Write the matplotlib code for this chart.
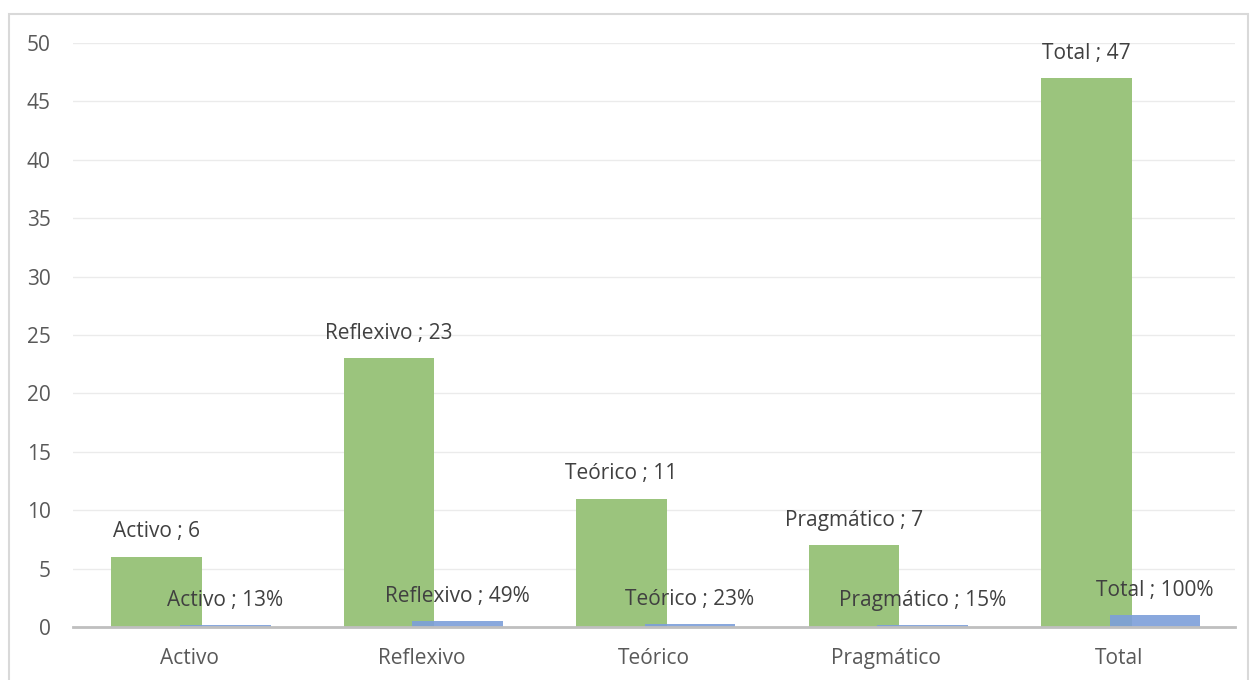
import matplotlib
matplotlib.use("Agg")
import matplotlib.pyplot as plt
import numpy as np
from matplotlib.patches import Rectangle

categories = ["Activo", "Reflexivo", "Teórico", "Pragmático", "Total"]
counts = [6, 23, 11, 7, 47]
shares = [0.13, 0.49, 0.23, 0.15, 1.00]
share_labels = ["13%", "49%", "23%", "15%", "100%"]
yticks = [0, 5, 10, 15, 20, 25, 30, 35, 40, 45, 50]

green = "#9BC47D"
blue = "#7C9FDA"
txt = "#404040"
tick_c = "#595959"

plt.rcParams["font.family"] = ["Open Sans", "DejaVu Sans"]

fig = plt.figure(figsize=(12.52, 6.80), dpi=100)
ax = fig.add_axes([73/1252, 1 - 627/680, (1235-73)/1252, (627-43)/680])

x = np.arange(len(categories))
w = 0.39
ax.bar(x - 0.14, counts, width=w, color=green, zorder=2)
ax.bar(x + 0.155, shares, width=w, color=blue, alpha=0.9, zorder=3)

fs = 15
for xi, c, cat in zip(x, counts, categories):
    ax.annotate(f"{cat} ; {c}", (xi - 0.14, c), xytext=(0, 18), textcoords="offset points",
                ha="center", va="center", fontsize=fs, color=txt, zorder=5)
for xi, s, lab, cat in zip(x, shares, share_labels, categories):
    ax.annotate(f"{cat} ; {lab}", (xi + 0.155, s), xytext=(0, 18), textcoords="offset points",
                ha="center", va="center", fontsize=fs, color=txt, zorder=5)

ax.set_xlim(-0.5, 4.5)
ax.set_ylim(0, 50)
ax.set_yticks(yticks)
ax.set_xticks(x)
ax.set_xticklabels(categories)
ax.tick_params(axis="both", length=0, labelsize=fs, colors=tick_c)
ax.tick_params(axis="y", pad=16)
ax.tick_params(axis="x", pad=15)
ax.grid(axis="y", color="#EBEBEB", linewidth=1, zorder=0)
ax.set_axisbelow(True)
for side in ["top", "right", "left"]:
    ax.spines[side].set_visible(False)
ax.spines["bottom"].set_color("#BFBFBF")
ax.spines["bottom"].set_linewidth(2)
ax.spines["bottom"].set_zorder(4)

fig.patches.append(Rectangle((8.5/1252, -0.01), (1248-8.5)/1252, 1 - 13.5/680 + 0.01,
                             transform=fig.transFigure, fill=False,
                             edgecolor="#D9D9D9", linewidth=1.5))

fig.savefig("out.png", dpi=100)
